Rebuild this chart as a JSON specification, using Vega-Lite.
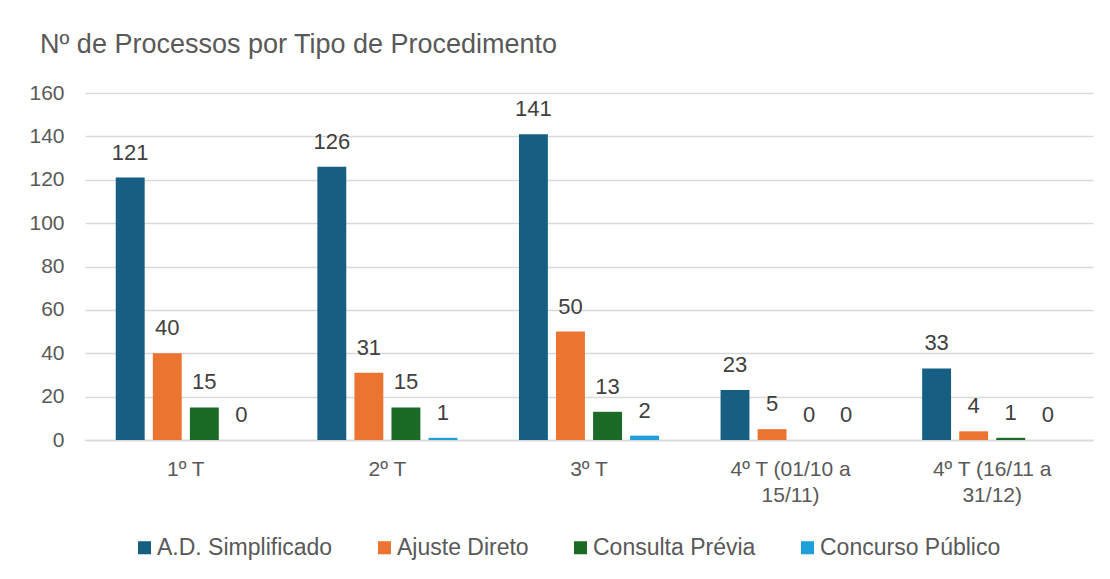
{
  "$schema": "https://vega.github.io/schema/vega-lite/v6.json",
  "width": 1008,
  "height": 347,
  "autosize": {"type": "none"},
  "padding": {"left": 85, "top": 93, "right": 17, "bottom": 139},
  "background": "white",
  "config": {
    "font": "Liberation Sans",
    "view": {"stroke": null}
  },
  "title": {
    "text": "Nº de Processos por Tipo de Procedimento",
    "anchor": "start",
    "frame": "group",
    "dx": -45,
    "offset": 23,
    "fontSize": 27,
    "fontWeight": "normal",
    "color": "#595959",
    "font": "Liberation Sans"
  },
  "data": {
    "values": [
      {"periodo": "1º T", "tipo": "A.D. Simplificado", "n": 121},
      {"periodo": "1º T", "tipo": "Ajuste Direto", "n": 40},
      {"periodo": "1º T", "tipo": "Consulta Prévia", "n": 15},
      {"periodo": "1º T", "tipo": "Concurso Público", "n": 0},
      {"periodo": "2º T", "tipo": "A.D. Simplificado", "n": 126},
      {"periodo": "2º T", "tipo": "Ajuste Direto", "n": 31},
      {"periodo": "2º T", "tipo": "Consulta Prévia", "n": 15},
      {"periodo": "2º T", "tipo": "Concurso Público", "n": 1},
      {"periodo": "3º T", "tipo": "A.D. Simplificado", "n": 141},
      {"periodo": "3º T", "tipo": "Ajuste Direto", "n": 50},
      {"periodo": "3º T", "tipo": "Consulta Prévia", "n": 13},
      {"periodo": "3º T", "tipo": "Concurso Público", "n": 2},
      {"periodo": "4º T (01/10 a 15/11)", "tipo": "A.D. Simplificado", "n": 23},
      {"periodo": "4º T (01/10 a 15/11)", "tipo": "Ajuste Direto", "n": 5},
      {"periodo": "4º T (01/10 a 15/11)", "tipo": "Consulta Prévia", "n": 0},
      {"periodo": "4º T (01/10 a 15/11)", "tipo": "Concurso Público", "n": 0},
      {"periodo": "4º T (16/11 a 31/12)", "tipo": "A.D. Simplificado", "n": 33},
      {"periodo": "4º T (16/11 a 31/12)", "tipo": "Ajuste Direto", "n": 4},
      {"periodo": "4º T (16/11 a 31/12)", "tipo": "Consulta Prévia", "n": 1},
      {"periodo": "4º T (16/11 a 31/12)", "tipo": "Concurso Público", "n": 0}
    ]
  },
  "encoding": {
    "x": {
      "field": "periodo",
      "type": "nominal",
      "sort": null,
      "scale": {"paddingInner": 0, "paddingOuter": 0},
      "axis": {
        "title": null,
        "labelAngle": 0,
        "labelFontSize": 21,
        "labelColor": "#595959",
        "labelPadding": 18,
        "labelLineHeight": 26,
        "labelBaseline": "top",
        "ticks": false,
        "domainColor": "#d9d9d9",
        "domainWidth": 1.5,
        "labelExpr": "length(datum.label) > 6 ? [slice(datum.label, 0, 13), slice(datum.label, 14)] : datum.label"
      }
    },
    "xOffset": {
      "field": "tipo",
      "type": "nominal",
      "sort": ["A.D. Simplificado", "Ajuste Direto", "Consulta Prévia", "Concurso Público"],
      "scale": {"paddingInner": 0.22, "paddingOuter": 0.83}
    },
    "y": {
      "field": "n",
      "type": "quantitative",
      "scale": {"domain": [0, 160], "nice": false},
      "axis": {
        "title": null,
        "values": [0, 20, 40, 60, 80, 100, 120, 140, 160],
        "labelFontSize": 21,
        "labelColor": "#595959",
        "labelPadding": 21,
        "ticks": false,
        "domain": false,
        "gridColor": "#d9d9d9",
        "gridWidth": 1.5
      }
    },
    "color": {
      "field": "tipo",
      "type": "nominal",
      "sort": ["A.D. Simplificado", "Ajuste Direto", "Consulta Prévia", "Concurso Público"],
      "scale": {
        "domain": ["A.D. Simplificado", "Ajuste Direto", "Consulta Prévia", "Concurso Público"],
        "range": ["#165f83", "#ec7431", "#1b6b26", "#1fa0d8"]
      },
      "legend": {
        "title": null,
        "orient": "none",
        "direction": "horizontal",
        "columns": 4,
        "legendX": 48,
        "legendY": 443,
        "padding": 0,
        "symbolType": "square",
        "symbolSize": 170,
        "symbolStrokeWidth": 0,
        "labelFontSize": 23,
        "labelColor": "#595959",
        "labelOffset": 1,
        "columnPadding": 40,
        "labelLimit": 400
      }
    }
  },
  "layer": [
    {"mark": {"type": "bar"}},
    {
      "mark": {"type": "text", "baseline": "bottom", "dy": -13, "fontSize": 22, "color": "#404040"},
      "encoding": {
        "text": {"field": "n", "type": "quantitative"},
        "color": {"value": "#404040"}
      }
    }
  ]
}
